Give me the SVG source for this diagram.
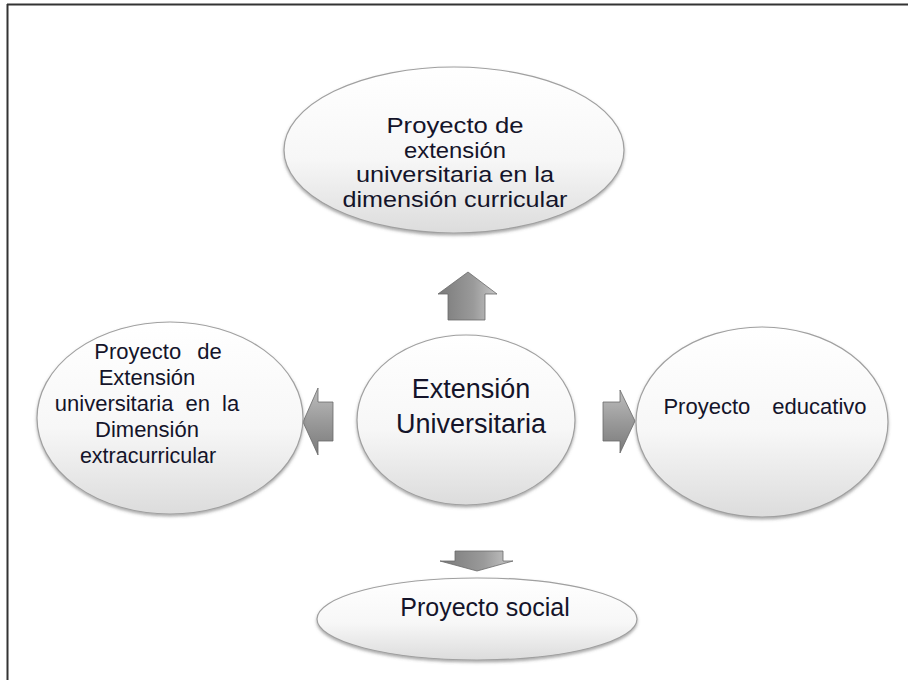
<svg xmlns="http://www.w3.org/2000/svg" width="908" height="680" viewBox="0 0 908 680">
<defs>
<linearGradient id="bub" x1="0" y1="0" x2="0" y2="1">
<stop offset="0" stop-color="#ffffff"/>
<stop offset="0.55" stop-color="#f7f7f7"/>
<stop offset="1" stop-color="#dcdcdc"/>
</linearGradient>
<linearGradient id="arrV" x1="0" y1="0" x2="1" y2="0">
<stop offset="0" stop-color="#7a7a7a"/>
<stop offset="0.6" stop-color="#9a9a9a"/>
<stop offset="1" stop-color="#c8c8c8"/>
</linearGradient>
<linearGradient id="arrH" x1="0" y1="0" x2="0" y2="1">
<stop offset="0" stop-color="#bdbdbd"/>
<stop offset="0.5" stop-color="#9a9a9a"/>
<stop offset="1" stop-color="#7a7a7a"/>
</linearGradient>
<filter id="sh" x="-10%" y="-10%" width="120%" height="125%">
<feDropShadow dx="0" dy="2" stdDeviation="1.5" flood-color="#555" flood-opacity="0.5"/>
</filter>
</defs>
<style>
.bubble{fill:url(#bub);stroke:#a0a0a0;stroke-width:1.2;filter:url(#sh)}
.arrv{fill:url(#arrV);stroke:#6a6a6a;stroke-width:0.8}
.arrh{fill:url(#arrH);stroke:#6a6a6a;stroke-width:0.8}
.t{font-family:"Liberation Sans",Arial,sans-serif;fill:#14142a;text-anchor:middle}
.frame{stroke:#333;stroke-width:2;fill:none}
</style>
<rect width="908" height="680" fill="#ffffff"/>
<line class="frame" x1="7" y1="4.5" x2="908" y2="4.5"/>
<line class="frame" x1="7.5" y1="4" x2="7.5" y2="680"/>

<g id="connectors">
<path class="arrv" d="M468,272 L497,294 L485,294 L485,320 L448,320 L448,294 L438,294 Z"/>
<path class="arrh" d="M303,422 L318,388 L318,402 L333,402 L333,441 L318,441 L318,455 Z"/>
<path class="arrh" d="M635,421 L620,390 L620,402 L603,402 L603,441 L620,441 L620,453 Z"/>
<path class="arrv" d="M477,571 L513,561 L503,561 L503,551 L455,551 L455,561 L440,561 Z"/>
</g>

<g id="node-top">
<ellipse class="bubble" cx="454" cy="150" rx="170" ry="83"/>
<text class="t" font-size="21.5"><tspan x="455" y="133" textLength="137" lengthAdjust="spacingAndGlyphs">Proyecto de</tspan><tspan x="455" y="158" textLength="102" lengthAdjust="spacingAndGlyphs">extensión</tspan><tspan x="455" y="182" textLength="198" lengthAdjust="spacingAndGlyphs">universitaria en la</tspan><tspan x="455" y="207" textLength="225" lengthAdjust="spacingAndGlyphs">dimensión curricular</tspan></text>
</g>

<g id="node-center">
<ellipse class="bubble" cx="466" cy="420" rx="109" ry="85"/>
<text class="t" font-size="27"><tspan x="471" y="398">Extensión</tspan><tspan x="471" y="433">Universitaria</tspan></text>
</g>

<g id="node-left">
<ellipse class="bubble" cx="170" cy="418" rx="133" ry="96"/>
<text class="t" font-size="22"><tspan x="158" y="359" word-spacing="10">Proyecto de</tspan><tspan x="147" y="385">Extensión</tspan><tspan x="147" y="411" word-spacing="6">universitaria en la</tspan><tspan x="147" y="437">Dimensión</tspan><tspan x="148" y="463" font-size="21.5">extracurricular</tspan></text>
</g>

<g id="node-right">
<ellipse class="bubble" cx="762" cy="422" rx="126" ry="95"/>
<text class="t" font-size="22" x="765" y="414" word-spacing="16">Proyecto educativo</text>
</g>

<g id="node-bottom">
<ellipse class="bubble" cx="477" cy="619" rx="160" ry="41"/>
<text class="t" font-size="25" x="485" y="616">Proyecto social</text>
</g>
</svg>
